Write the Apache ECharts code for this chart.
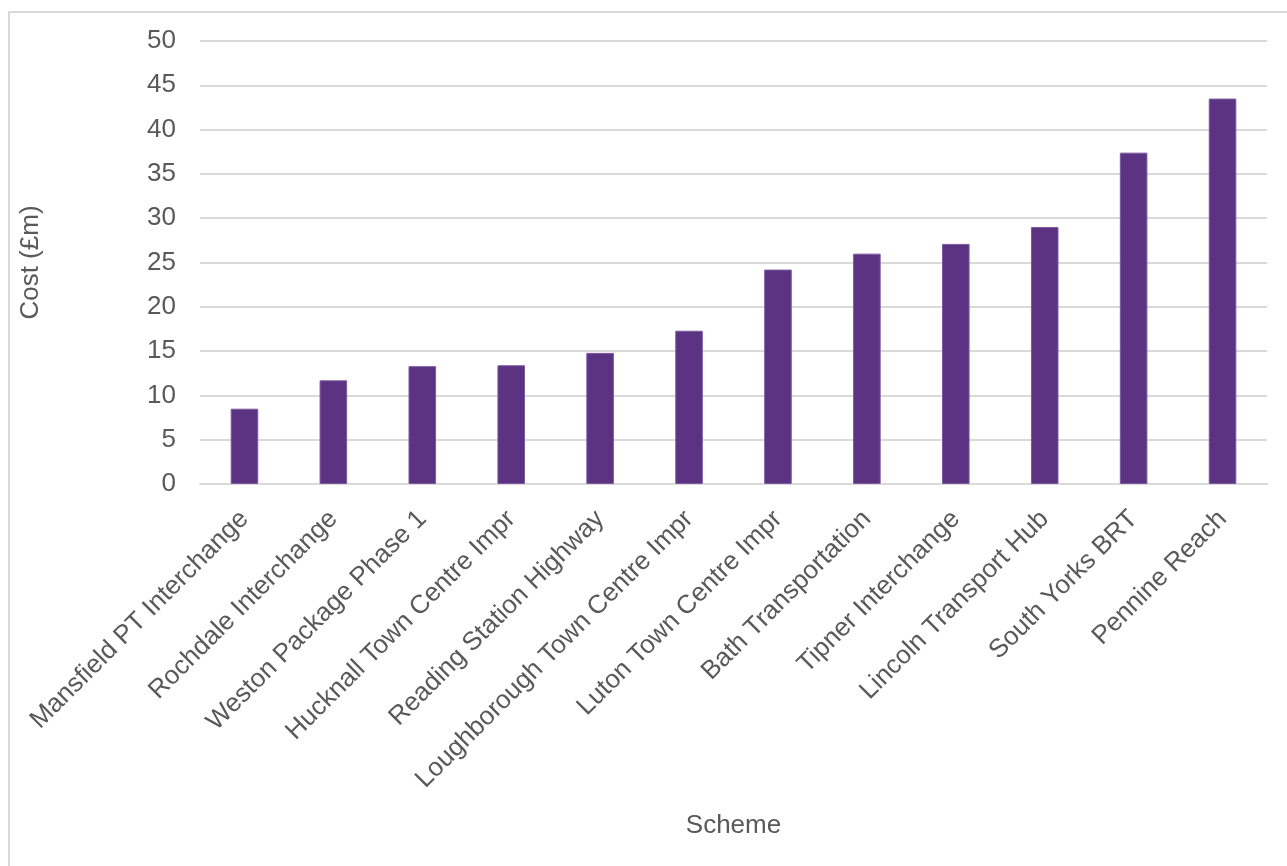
<!DOCTYPE html>
<html>
<head>
<meta charset="utf-8">
<script src="https://cdn.jsdelivr.net/npm/echarts@6/dist/echarts.min.js"></script>
<style>
  html, body { margin: 0; padding: 0; background: #ffffff; }
  #chart { width: 1287px; height: 866px; }
</style>
</head>
<body>
<div id="chart"></div>
<script>
// Scheme names, ordered by cost
const schemes = [
  'Mansfield PT Interchange',
  'Rochdale Interchange',
  'Weston Package Phase 1',
  'Hucknall Town Centre Impr',
  'Reading Station Highway',
  'Loughborough Town Centre Impr',
  'Luton Town Centre Impr',
  'Bath Transportation',
  'Tipner Interchange',
  'Lincoln Transport Hub',
  'South Yorks BRT',
  'Pennine Reach'
];

// Cost of each scheme, £m
const costs = [8.5, 11.7, 13.3, 13.4, 14.8, 17.3, 24.2, 26.0, 27.1, 29.0, 37.4, 43.5];

// Value axis range
const yMin = 0;
const yMax = 50;
const yStep = 5;

const textColor = '#595959';
const gridColor = '#D9D9D9';
const barColor = '#5C3282';
const fontFamily = '"Liberation Sans", Arial, sans-serif';

const chart = echarts.init(document.getElementById('chart'), null, { renderer: 'canvas' });

chart.setOption({
  backgroundColor: '#ffffff',
  animation: false,
  textStyle: { fontFamily: fontFamily },
  graphic: [{
    type: 'rect',
    silent: true,
    shape: { x: 9, y: 12, width: 1400, height: 1000 },
    style: { fill: 'none', stroke: gridColor, lineWidth: 2 }
  }],
  grid: {
    left: 200,
    right: 20,
    top: 41,
    bottom: 382,
    containLabel: false
  },
  xAxis: {
    type: 'category',
    data: schemes,
    name: 'Scheme',
    nameLocation: 'middle',
    nameGap: 329,
    nameTextStyle: { color: textColor, fontSize: 26, fontFamily: fontFamily, verticalAlign: 'top' },
    axisLine: { show: true, lineStyle: { color: gridColor, width: 2 } },
    axisTick: { show: false },
    axisLabel: {
      interval: 0,
      rotate: 45,
      margin: 31,
      color: textColor,
      fontSize: 26,
      fontFamily: fontFamily
    }
  },
  yAxis: {
    type: 'value',
    min: yMin,
    max: yMax,
    interval: yStep,
    name: 'Cost (£m)',
    nameLocation: 'middle',
    nameGap: 156,
    nameTextStyle: { color: textColor, fontSize: 26, fontFamily: fontFamily },
    axisLine: { show: false },
    axisTick: { show: false },
    axisLabel: {
      margin: 24,
      color: textColor,
      fontSize: 26,
      fontFamily: fontFamily
    },
    splitLine: { show: true, lineStyle: { color: gridColor, width: 2 } }
  },
  series: [{
    type: 'bar',
    data: costs,
    barWidth: '31%',
    itemStyle: { color: barColor, borderColor: '#7A5A9E', borderWidth: 1 }
  }]
});
</script>
</body>
</html>
